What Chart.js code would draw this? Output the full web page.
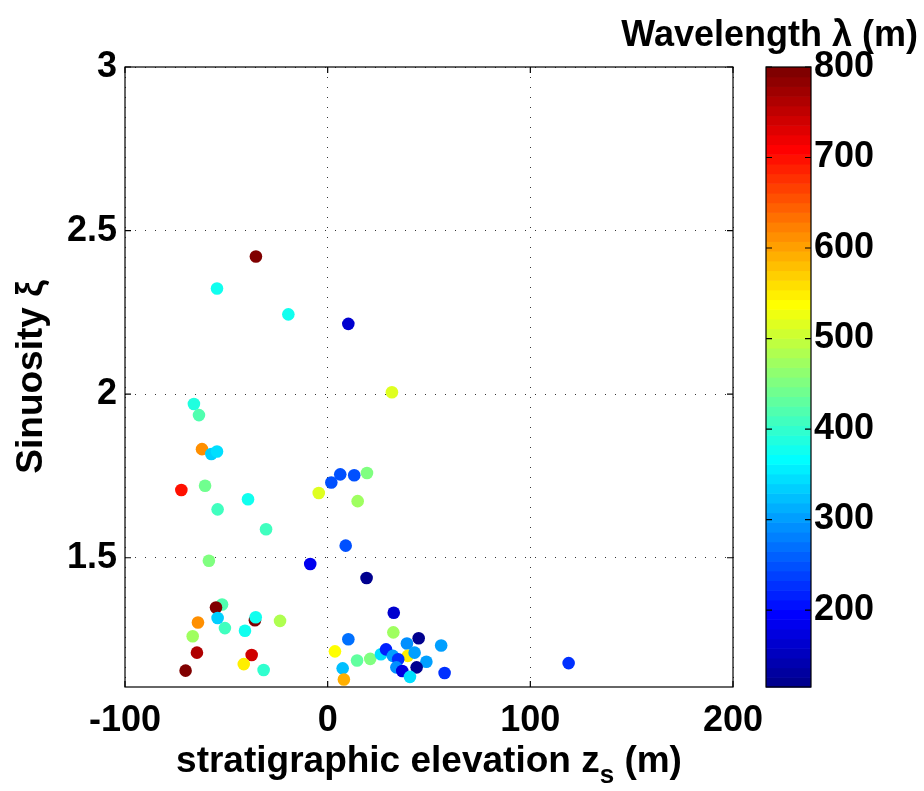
<!DOCTYPE html>
<html>
<head>
<meta charset="utf-8">
<script src="https://cdn.jsdelivr.net/npm/chart.js@4.4.1/dist/chart.umd.min.js"></script>
<style>
  html, body { margin: 0; padding: 0; background: #fff; }
</style>
</head>
<body>
<canvas id="myChart" width="924" height="791"></canvas>
<script>
// stratigraphic elevation z_s (m)
let elevation = [
  -35.4, -54.6, -19.4, 10.2, -66.0, -63.5, -62.0, -57.4, -54.6, -72.2,
  -60.5, -54.3, -39.3, -30.4, 1.8, 6.2, 13.1, 19.4, -4.4, 14.8,
  8.9, -58.6, -8.6, 19.2, -52.1, -55.1, -64.0, -54.3, -50.7, -66.6,
  -40.8, -35.9, -35.5, -23.5, -64.5, -37.5, -70.1, -41.4, -31.6, 3.6,
  10.2, 7.4, 8.0, 14.5, 21.0, 31.7, 32.6, 32.4, 44.9, 39.1,
  56.0, 26.3, 28.8, 32.2, 39.5, 34.8, 42.9, 48.7, 33.9, 36.8,
  43.9, 40.6, 57.7, 118.9
];
// sinuosity xi
let sinuosity = [
  2.421, 2.323, 2.244, 2.215, 1.970, 1.936, 1.832, 1.817, 1.825, 1.707,
  1.720, 1.648, 1.679, 1.587, 1.730, 1.755, 1.752, 1.759, 1.698, 1.673,
  1.537, 1.491, 1.481, 1.438, 1.357, 1.348, 1.302, 1.316, 1.285, 1.260,
  1.277, 1.309, 1.318, 1.307, 1.210, 1.203, 1.155, 1.175, 1.157, 1.214,
  1.251, 1.162, 1.128, 1.186, 1.191, 2.006, 1.332, 1.272, 1.254, 1.238,
  1.232, 1.205, 1.220, 1.200, 1.200, 1.190, 1.210, 1.182, 1.165, 1.154,
  1.165, 1.136, 1.148, 1.178
];
// wavelength lambda (m)
let wavelength = [
  790, 375, 380, 166, 385, 423, 610, 330, 340, 700,
  440, 405, 380, 410, 250, 250, 245, 455, 512, 475,
  250, 455, 185, 122, 420, 790, 610, 330, 410, 475,
  375, 790, 375, 480, 760, 745, 790, 545, 400, 535,
  265, 325, 590, 430, 450, 515, 165, 470, 122, 290,
  300, 345, 215, 305, 545, 230, 300, 300, 290, 175,
  125, 345, 230, 230
];

let xTicks = [-100, 0, 100, 200];
let yTicks = [1.5, 2, 2.5, 3];
let cbTicks = [200, 300, 400, 500, 600, 700, 800];
let cMin = 115, cMax = 800;

const FONT = "'Liberation Sans', Arial, sans-serif";

// MATLAB jet(64), i = 1..64
function jet(i) {
  let r = i < 25 ? 0 : i <= 40 ? (i - 24) / 16 : i <= 55 ? 1 : (72 - i) / 16;
  let g = i < 9 ? 0 : i <= 24 ? (i - 8) / 16 : i <= 39 ? 1 : i <= 55 ? (56 - i) / 16 : 0;
  let b = i <= 8 ? (i + 8) / 16 : i <= 23 ? 1 : i <= 39 ? (40 - i) / 16 : 0;
  return `rgb(${Math.round(r * 255)},${Math.round(g * 255)},${Math.round(b * 255)})`;
}
function colorFor(v) {
  let i = Math.floor((v - cMin) / (cMax - cMin) * 64) + 1;
  return jet(Math.min(64, Math.max(1, i)));
}

let points = elevation.map((x, i) => ({ x: x, y: sinuosity[i] }));
let colors = wavelength.map(colorFor);

let frame = {
  id: "frame",
  afterDraw(chart) {
    let ctx = chart.ctx;
    let a = chart.chartArea;
    let xs = chart.scales.x, ys = chart.scales.y, cb = chart.scales.cb;
    ctx.save();

    // axes box + inner ticks
    ctx.strokeStyle = "#000";
    ctx.lineWidth = 1.2;
    ctx.strokeRect(a.left, a.top, a.right - a.left, a.bottom - a.top);
    ctx.beginPath();
    xTicks.forEach((v) => {
      let px = xs.getPixelForValue(v);
      ctx.moveTo(px, a.bottom); ctx.lineTo(px, a.bottom - 6);
      ctx.moveTo(px, a.top); ctx.lineTo(px, a.top + 6);
    });
    yTicks.forEach((v) => {
      let py = ys.getPixelForValue(v);
      ctx.moveTo(a.left, py); ctx.lineTo(a.left + 6, py);
      ctx.moveTo(a.right, py); ctx.lineTo(a.right - 6, py);
    });
    ctx.stroke();

    // colorbar
    let x0 = a.right + 33, x1 = a.right + 78;
    for (let i = 1; i <= 64; i++) {
      let lo = cMin + (i - 1) * (cMax - cMin) / 64;
      let hi = cMin + i * (cMax - cMin) / 64;
      let yt = cb.getPixelForValue(hi), yb = cb.getPixelForValue(lo);
      ctx.fillStyle = jet(i);
      ctx.fillRect(x0, yt, x1 - x0, yb - yt + 0.6);
    }
    ctx.strokeRect(x0, cb.top, x1 - x0, cb.bottom - cb.top);
    ctx.beginPath();
    cbTicks.forEach((v) => {
      let py = cb.getPixelForValue(v);
      ctx.moveTo(x0, py); ctx.lineTo(x0 + 6, py);
      ctx.moveTo(x1, py); ctx.lineTo(x1 - 6, py);
    });
    ctx.stroke();

    // colorbar title
    ctx.fillStyle = "#000";
    ctx.font = "bold 36px " + FONT;
    ctx.textAlign = "right";
    ctx.textBaseline = "alphabetic";
    ctx.fillText("Wavelength \u03bb (m)", 918, 46);

    // x axis title with subscript
    let main = "stratigraphic elevation z", sub = "s", tail = " (m)";
    ctx.font = "bold 37px " + FONT;
    let wMain = ctx.measureText(main).width, wTail = ctx.measureText(tail).width;
    ctx.font = "bold 26px " + FONT;
    let wSub = ctx.measureText(sub).width;
    let cx = (a.left + a.right) / 2;
    let sx = cx - (wMain + wSub + wTail) / 2;
    let base = 772;
    ctx.textAlign = "left";
    ctx.font = "bold 37px " + FONT;
    ctx.fillText(main, sx, base);
    ctx.font = "bold 26px " + FONT;
    ctx.fillText(sub, sx + wMain, base + 11);
    ctx.font = "bold 37px " + FONT;
    ctx.fillText(tail, sx + wMain + wSub, base);
    ctx.restore();
  },
};

let ctx = document.getElementById("myChart").getContext("2d");
let myChart = new Chart(ctx, {
  type: "scatter",
  data: {
    datasets: [
      {
        data: points,
        pointBackgroundColor: colors,
        pointBorderWidth: 0,
        pointRadius: 6.3,
        pointHoverRadius: 6.3,
      },
    ],
  },
  options: {
    responsive: false,
    animation: false,
    devicePixelRatio: 1,
    layout: { padding: { top: 67, left: 0, right: 0, bottom: 0 } },
    plugins: { legend: { display: false }, tooltip: { enabled: false } },
    scales: {
      x: {
        type: "linear",
        min: -100,
        max: 200,
        afterBuildTicks: (s) => { s.ticks = xTicks.map((v) => ({ value: v })); },
        afterFit: (s) => { s.height = 104; },
        grid: { color: "#333", lineWidth: 1, drawTicks: false },
        border: { display: false, dash: [1, 9] },
        ticks: {
          color: "#000",
          padding: 12,
          font: { size: 36, weight: "bold", family: FONT },
          callback: (v) => String(v),
        },
      },
      y: {
        type: "linear",
        min: 1.105,
        max: 3,
        afterBuildTicks: (s) => { s.ticks = yTicks.map((v) => ({ value: v })); },
        afterFit: (s) => { s.width = 125; s.paddingTop = 0; s.paddingBottom = 0; },
        grid: { color: "#333", lineWidth: 1, drawTicks: false },
        border: { display: false, dash: [1, 9] },
        ticks: {
          color: "#000",
          padding: 8,
          font: { size: 36, weight: "bold", family: FONT },
          callback: (v) => String(v),
        },
        title: {
          display: true,
          text: "Sinuosity \u03be",
          color: "#000",
          padding: { top: 10, bottom: 0 },
          font: { size: 37, weight: "bold", family: FONT },
        },
      },
      cb: {
        type: "linear",
        position: "right",
        min: cMin,
        max: cMax,
        afterBuildTicks: (s) => { s.ticks = cbTicks.map((v) => ({ value: v })); },
        afterFit: (s) => { s.width = 191; s.paddingTop = 0; s.paddingBottom = 0; },
        grid: { display: false, drawTicks: false },
        border: { display: false },
        ticks: {
          color: "#000",
          padding: 81,
          font: { size: 36, weight: "bold", family: FONT },
          callback: (v) => String(v),
        },
      },
    },
  },
  plugins: [frame],
});
</script>
</body>
</html>
